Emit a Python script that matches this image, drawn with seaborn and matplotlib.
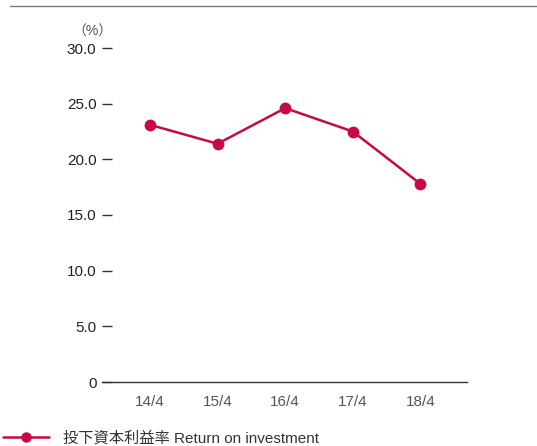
import pandas as pd
import matplotlib.pyplot as plt
import seaborn as sns
from matplotlib.lines import Line2D

years = ['14/4', '15/4', '16/4', '17/4', '18/4']
roi = [23.1, 21.4, 24.6, 22.5, 17.8]
yticks = [0, 5, 10, 15, 20, 25, 30]
ytick_labels = ['0', '5.0', '10.0', '15.0', '20.0', '25.0', '30.0']
legend_label = '投下資本利益率 Return on investment'

df = pd.DataFrame({'year': years, 'roi': roi})

sns.set_style('white')
plt.rcParams['font.family'] = ['Liberation Sans', 'Noto Sans CJK JP']

red = '#C70A45'
fig = plt.figure(figsize=(5.37, 4.46), dpi=100)
ax = fig.add_axes([102 / 537, 64 / 446, 365 / 537, 334 / 446])

sns.lineplot(data=df, x='year', y='roi', ax=ax, color=red, linewidth=1.8,
             marker='o', markersize=8.5, markeredgewidth=0)

ax.set_xlim(-0.71, 4.69)
ax.set_ylim(0, 30)
ax.set_yticks(yticks)
ax.set_yticklabels(ytick_labels)
ax.set_xlabel('')
ax.set_ylabel('')
for s in ['top', 'right', 'left']:
    ax.spines[s].set_visible(False)
ax.spines['bottom'].set_color('#333333')
ax.spines['bottom'].set_linewidth(1.0)
ax.tick_params(axis='y', left=True, direction='in', length=7.5, width=1.0,
               color='#333333', pad=4, labelsize=11, labelcolor='#222222')
ax.tick_params(axis='x', bottom=False, length=0, pad=9, labelsize=11,
               labelcolor='#555555')

fig.text(92 / 537, 1 - 32 / 446, '（%）', ha='center', va='center',
         fontsize=10, color='#555555')

# top rule
fig.add_artist(Line2D([10 / 537, 1], [1 - 6 / 446, 1 - 6 / 446],
                      color='#777777', linewidth=1.0))

handle = Line2D([], [], color=red, linewidth=1.8, marker='o', markersize=7.5,
                markeredgewidth=0)
fig.legend([handle], [legend_label], loc='center left',
           bbox_to_anchor=(0.0, 1 - 438 / 446), frameon=False,
           handlelength=3.0, handletextpad=0.9, fontsize=11,
           labelcolor='#333333', borderaxespad=0, borderpad=0.2)

fig.savefig('out.png', dpi=100)
